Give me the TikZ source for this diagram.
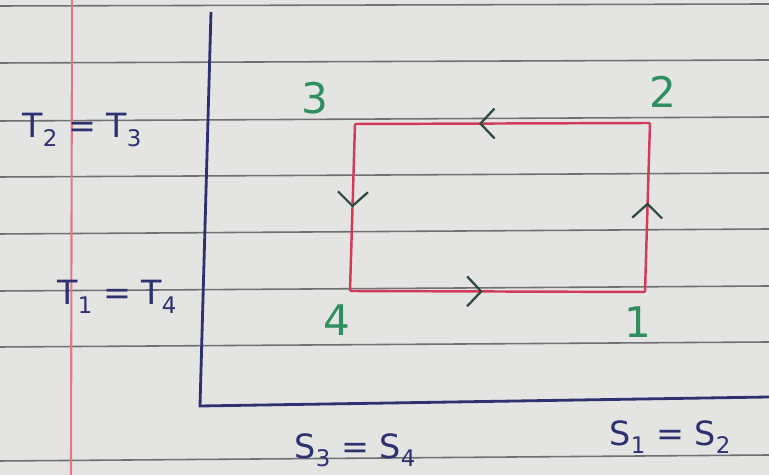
\documentclass[tikz,border=0pt]{standalone}
\usepackage{fontspec}
\setmainfont{DejaVu Sans}
\usetikzlibrary{arrows.meta,decorations.markings}
\definecolor{paper}{HTML}{E4E4E2}
\definecolor{rule}{HTML}{6E7074}
\definecolor{margin}{HTML}{E07A8A}
\definecolor{ink}{HTML}{2E3170}
\definecolor{cycle}{HTML}{D23A5A}
\definecolor{grn}{HTML}{2E8E5E}
\definecolor{arr}{HTML}{2F4A40}
\newcommand{\lowsub}[1]{\raisebox{-0.25em}{\fontsize{13}{13}\selectfont #1}}
\tikzset{
  ruleline/.style={rule,line width=0.9pt},
  axisline/.style={ink,line width=1.6pt},
  cycleline/.style={cycle,line width=1.4pt},
  midarrow/.style={postaction={decorate},decoration={markings,
     mark=at position #1 with {\arrow[arr,line width=1.3pt]{Straight Barb[length=8pt,width=17pt]}}}},
  statelabel/.style={grn,font=\fontsize{24}{24}\selectfont},
  varlabel/.style={ink,font=\fontsize{19}{19}\selectfont}
}
\begin{document}
\begin{tikzpicture}[x=0.02cm,y=-0.02cm]
\fill[paper] (0,0) rectangle (769,475);
\useasboundingbox (0,0) rectangle (769,475);
% ruled lines
\foreach \y/\z in {6/4, 63/60, 121/117, 177/173, 234/229, 291/286, 347/342, 461/455}
  \draw[ruleline] (0,\y) -- (769,\z);
% margin
\draw[margin,line width=1.2pt] (72,0) -- (71,475);
% axes
\coordinate (top) at (211,12);
\coordinate (origin) at (200,406);
\coordinate (right) at (769,397);
\draw[axisline] (top) -- (origin) -- (right);
% cycle corners
\coordinate (p1) at (645,292);
\coordinate (p2) at (650,123);
\coordinate (p3) at (355,124);
\coordinate (p4) at (350,291);
\draw[cycleline,midarrow=0.53] (p1) -- (p2);
\draw[cycleline,midarrow=0.58] (p2) -- (p3);
\draw[cycleline,midarrow=0.5] (p3) -- (p4);
\draw[cycleline,midarrow=0.45] (p4) -- (p1);
% state labels
\node[statelabel] (l3) at (315,98) {3};
\node[statelabel] (l2) at (663,92) {2};
\node[statelabel] (l4) at (337,320) {4};
\node[statelabel] (l1) at (638,322) {1};
% variable labels
\node[varlabel] (t23) at (82,130) {T\lowsub{2} = T\lowsub{3}};
\node[varlabel] (t14) at (117,297) {T\lowsub{1} = T\lowsub{4}};
\node[varlabel] (s34) at (355,450) {S\lowsub{3} = S\lowsub{4}};
\node[varlabel] (s12) at (670,437) {S\lowsub{1} = S\lowsub{2}};
\end{tikzpicture}
\end{document}
